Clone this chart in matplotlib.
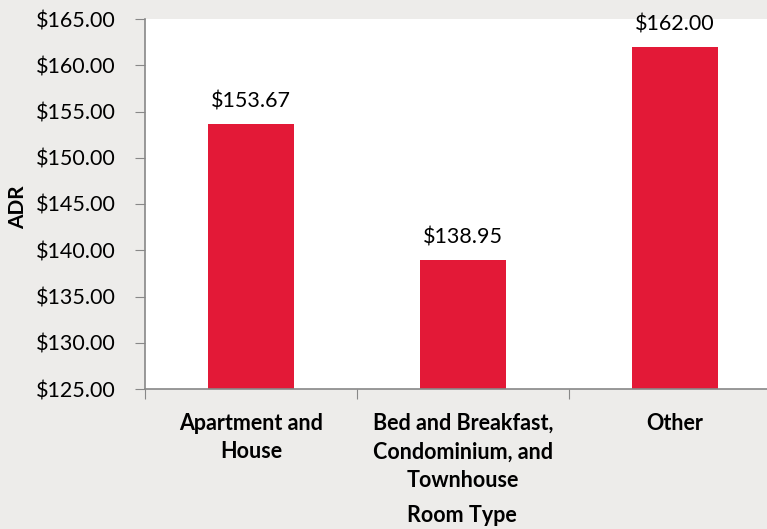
import matplotlib
matplotlib.use("Agg")
import matplotlib.pyplot as plt

categories = ["Apartment and\nHouse", "Bed and Breakfast,\nCondominium, and\nTownhouse", "Other"]
adr = [153.67, 138.95, 162.00]
yticks = [125, 130, 135, 140, 145, 150, 155, 160, 165]

plt.rcParams['font.family'] = ['Lato', 'DejaVu Sans']

fig = plt.figure(figsize=(7.67, 5.29), dpi=100, facecolor="#edecea")
ax = fig.add_axes([145 / 767, 1 - 389 / 529, 636 / 767, 370 / 529])
ax.set_facecolor("white")

x = range(len(adr))
bars = ax.bar(x, adr, width=0.405, bottom=0, color="#e31937", zorder=2)
ax.set_ylim(125, 165)
ax.set_xlim(-0.5, 2.5)

for xi, v in zip(x, adr):
    ax.text(xi, v + 1.3, f"${v:.2f}", ha="center", va="bottom", fontsize=15.5, color="black")

ax.set_yticks(yticks)
ax.set_yticklabels([f"${t:.2f}" for t in yticks], fontsize=15.5)
ax.set_xticks([-0.5, 0.5, 1.5, 2.5], minor=False)
ax.set_xticklabels([])
ax.set_xticks(list(x), minor=True)
ax.set_xticklabels(categories, minor=True, fontsize=15.5, fontweight="bold", linespacing=1.45, va="top")
ax.tick_params(axis="x", which="minor", length=0, pad=17)
ax.tick_params(axis="x", which="major", length=7, color="#888888", direction="out")
ax.tick_params(axis="y", length=7, color="#888888", pad=14)

for s in ["top", "right"]:
    ax.spines[s].set_visible(False)
for s in ["left", "bottom"]:
    ax.spines[s].set_color("#888888")
    ax.spines[s].set_linewidth(1.2)

fig.text(18 / 767, 1 - 207 / 529, "ADR", rotation=90, ha="center", va="center", fontsize=15, fontweight="bold")
fig.text(462 / 767, 1 - 515 / 529, "Room Type", ha="center", va="center", fontsize=15.5, fontweight="bold")

fig.savefig("out.png", dpi=100, facecolor=fig.get_facecolor())
